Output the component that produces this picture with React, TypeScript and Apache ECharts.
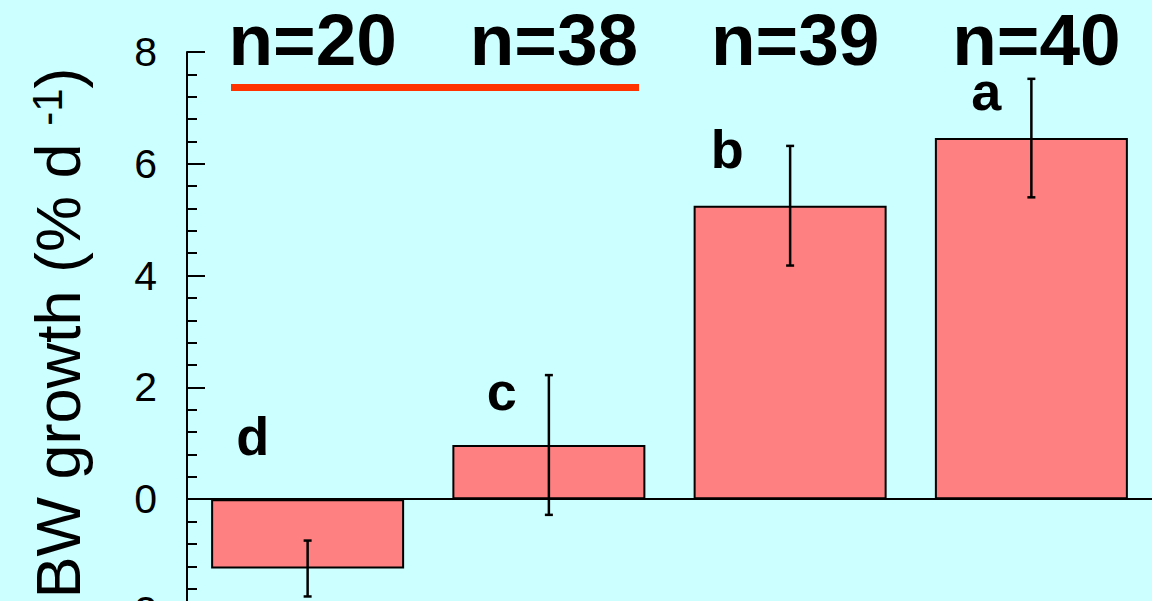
import React, { useEffect, useRef } from "react";
import * as echarts from "echarts";

// Treatment groups (one bar each), with sample sizes shown above the plot
const groups = ["G1", "G2", "G3", "G4"];
const sampleSizes = ["n=20", "n=38", "n=39", "n=40"];

// Mean body-weight growth (% d-1) and its error (±)
const meanGrowth = [-1.24, 0.97, 5.25, 6.46];
const growthError = [0.5, 1.25, 1.07, 1.06];

// Significance letters and the height (axis units) at which each sits
const sigLetters = ["d", "c", "b", "a"];
const letterY = [1.13, 1.93, 6.26, 7.3];

// Y-axis range and step
const yMin = -2;
const yMax = 8;
const yStep = 2;

const FONT = "'Liberation Sans', Arial, sans-serif";

export default function App() {
  const ref = useRef<HTMLDivElement>(null);

  useEffect(() => {
    if (!ref.current) return;
    const chart = echarts.init(ref.current, null, { renderer: "svg" });

    const letterShift = [-55, -47, -63, -45];

    chart.setOption({
      animation: false,
      backgroundColor: "#CCFFFF",
      grid: { left: 187, right: 0, top: 52, bottom: 49, containLabel: false },
      xAxis: [
        {
          type: "category",
          data: groups,
          axisLine: { show: true, onZero: true, lineStyle: { color: "#000", width: 2 } },
          axisTick: { show: false },
          axisLabel: { show: false },
        },
        {
          type: "category",
          data: sampleSizes,
          position: "top",
          axisLine: { show: false, onZero: false },
          axisTick: { show: false },
          axisLabel: {
            show: true,
            color: "#000",
            fontFamily: FONT,
            fontWeight: "bold",
            fontSize: 73,
            lineHeight: 56,
            verticalAlign: "middle",
            margin: 13,
            padding: [0, 0, 0, 10],
          },
        },
      ],
      yAxis: {
        type: "value",
        min: yMin,
        max: yMax,
        interval: yStep,
        axisLine: { show: true, onZero: false, lineStyle: { color: "#000", width: 2 } },
        axisTick: { show: true, inside: true, length: 18, lineStyle: { color: "#000", width: 2 } },
        minorTick: { show: true, splitNumber: 5, length: 10, lineStyle: { color: "#000", width: 2 } },
        splitLine: { show: false },
        axisLabel: { color: "#000", fontFamily: FONT, fontSize: 41, margin: 30 },
      },
      graphic: [
        {
          type: "text",
          x: 58,
          y: 333,
          rotation: Math.PI / 2,
          style: {
            text: "{m|BW growth (% d }{s|-1}{m|)}",
            align: "center",
            verticalAlign: "middle",
            fill: "#000",
            rich: {
              m: { fontFamily: FONT, fontSize: 63, fill: "#000" },
              s: { fontFamily: FONT, fontSize: 42, fill: "#000", verticalAlign: "top" },
            },
          },
        },
        {
          type: "line",
          shape: { x1: 231, y1: 87.5, x2: 639, y2: 87.5 },
          style: { stroke: "#FF3300", lineWidth: 7 },
        },
      ],
      series: [
        {
          type: "bar",
          data: meanGrowth,
          barWidth: 193,
          itemStyle: { color: "#FF8080", borderColor: "#000", borderWidth: 2 },
        },
        {
          type: "custom",
          data: meanGrowth.map((m, i) => [i, m, growthError[i]]),
          encode: { x: 0, y: 1 },
          z: 10,
          renderItem: (_params: any, api: any) => {
            const i = api.value(0);
            const m = api.value(1);
            const e = api.value(2);
            const top = api.coord([i, m + e]);
            const bot = api.coord([i, m - e]);
            const cap = 4;
            const style = { stroke: "#000", lineWidth: 2.5 };
            return {
              type: "group",
              children: [
                { type: "line", shape: { x1: top[0], y1: top[1], x2: bot[0], y2: bot[1] }, style },
                { type: "line", shape: { x1: top[0] - cap, y1: top[1], x2: top[0] + cap, y2: top[1] }, style },
                { type: "line", shape: { x1: bot[0] - cap, y1: bot[1], x2: bot[0] + cap, y2: bot[1] }, style },
              ],
            };
          },
        },
        {
          type: "scatter",
          symbolSize: 0,
          clip: false,
          z: 11,
          itemStyle: { color: "#000" },
          data: letterY.map((y, i) => ({
            value: [i, y],
            label: { offset: [letterShift[i], 0] },
          })),
          label: {
            show: true,
            position: "inside",
            formatter: (p: any) => sigLetters[p.dataIndex],
            color: "#000",
            textBorderWidth: 0,
            opacity: 1,
            fontFamily: FONT,
            fontWeight: "bold",
            fontSize: 54,
            lineHeight: 40,
          },
        },
      ],
    });

    return () => chart.dispose();
  }, []);

  return (
    <div
      ref={ref}
      style={{ position: "fixed", left: 0, top: 0, width: 1152, height: 660 }}
    />
  );
}
